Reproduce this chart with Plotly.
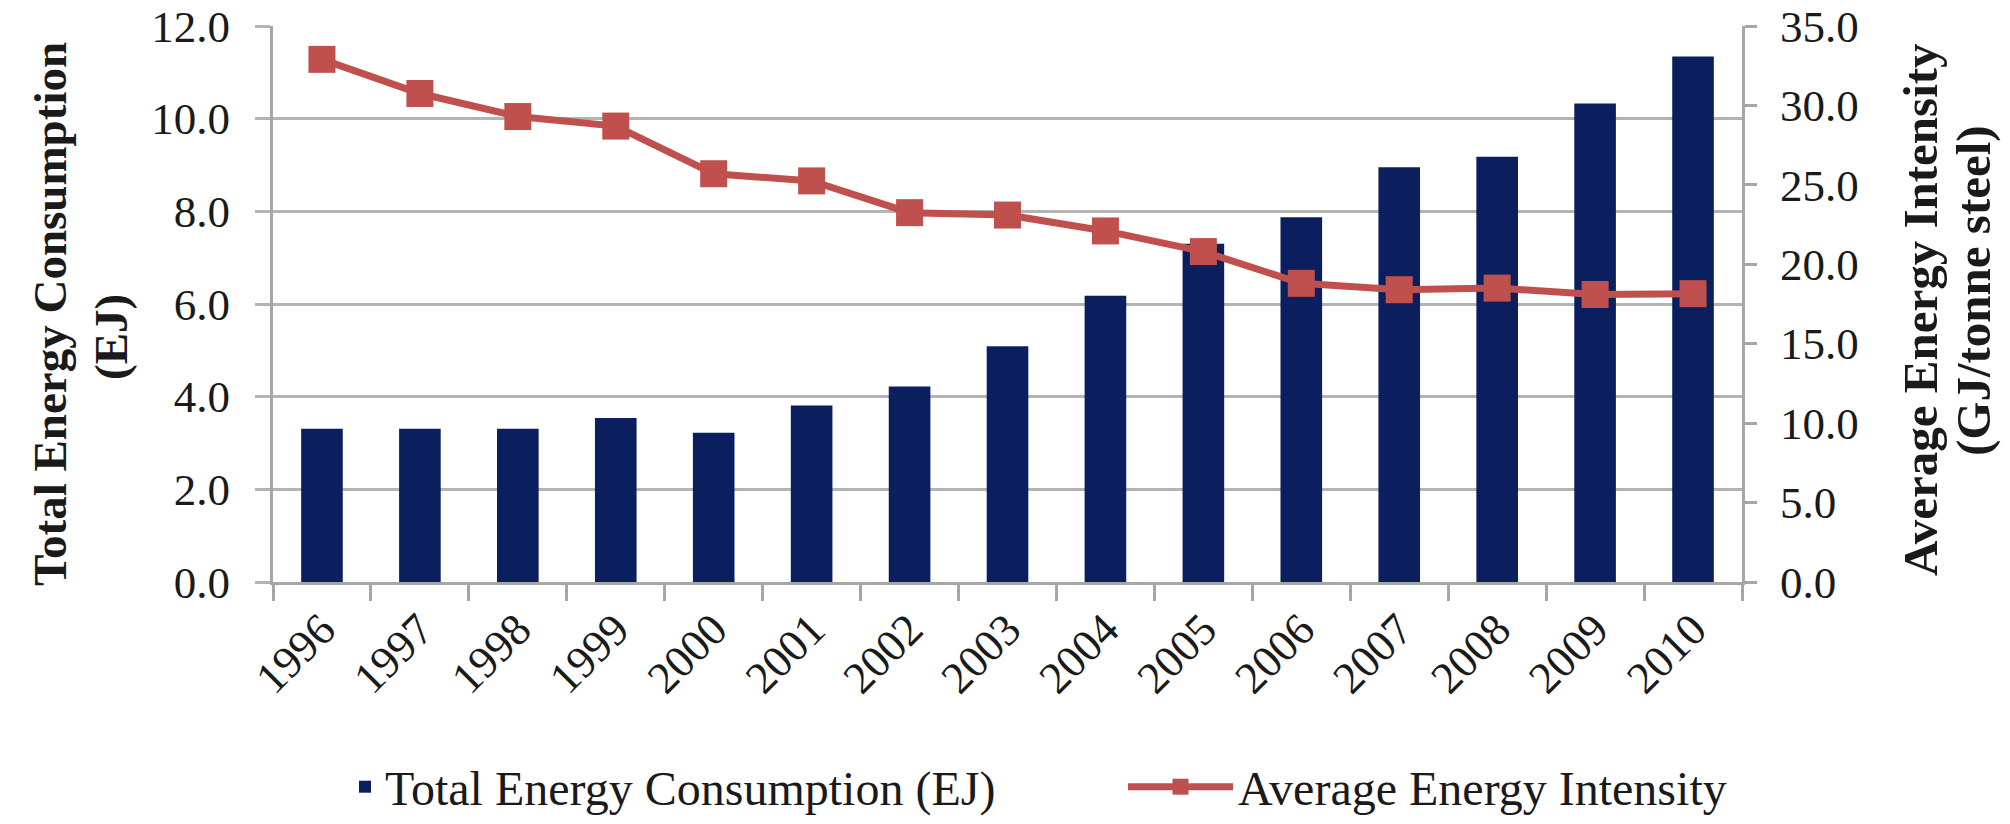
import plotly.graph_objects as go

years = ["1996", "1997", "1998", "1999", "2000", "2001", "2002", "2003",
         "2004", "2005", "2006", "2007", "2008", "2009", "2010"]
consumption_ej = [3.31, 3.31, 3.31, 3.54, 3.22, 3.81, 4.22, 5.09,
                  6.18, 7.30, 7.87, 8.95, 9.18, 10.33, 11.34]
intensity_gj_t = [32.9, 30.75, 29.3, 28.7, 25.7, 25.25, 23.25, 23.1,
                  22.1, 20.8, 18.8, 18.4, 18.5, 18.1, 18.15]

left_ticks = [0, 2, 4, 6, 8, 10, 12]
right_ticks = [0, 5, 10, 15, 20, 25, 30, 35]

left_title = ["Total Energy Consumption", "(EJ)"]
right_title = ["Average Energy Intensity", "(GJ/tonne steel)"]

FONT = "Liberation Serif, Times New Roman, serif"
BAR_COLOR = "#0B1F5E"
LINE_COLOR = "#C0504D"
GRID = "#B4B4B4"
AXIS = "#A6A6A6"

W, H = 2010, 824
ML, MR, MT, MB = 273, 268, 26, 242
PW, PH = W - ML - MR, H - MT - MB


def px_x(px):
    return (px - ML) / PW


def px_y(py):
    return (H - MB - py) / PH


fig = go.Figure()
fig.add_trace(go.Bar(
    x=years, y=consumption_ej, name="Total Energy Consumption (EJ)",
    marker=dict(color=BAR_COLOR, line=dict(width=0)), yaxis="y",
    legend="legend",
))
fig.add_trace(go.Scatter(
    x=years, y=intensity_gj_t, name="Average Energy Intensity",
    mode="lines+markers", yaxis="y2", legend="legend2",
    line=dict(color=LINE_COLOR, width=7),
    marker=dict(symbol="square", size=27, color=LINE_COLOR),
))

legend_common = dict(
    orientation="h", xref="container", yref="container",
    xanchor="left", y=1 - 787 / H, yanchor="middle",
    font=dict(family=FONT, size=48, color="#1a1a1a"),
    bgcolor="rgba(0,0,0,0)",
)

fig.update_layout(
    width=W, height=H,
    margin=dict(l=ML, r=MR, t=MT, b=MB, autoexpand=False),
    paper_bgcolor="white", plot_bgcolor="white",
    font=dict(family=FONT, size=45, color="#1a1a1a"),
    bargap=0.575,
    showlegend=True,
    legend=dict(x=345 / W, itemwidth=30, **legend_common),
    legend2=dict(x=1123 / W, itemwidth=105, **legend_common),
    xaxis=dict(
        type="category", range=[-0.5, len(years) - 0.5],
        tickson="boundaries", ticks="outside", ticklen=16,
        tickwidth=3, tickcolor=AXIS, showline=True, linecolor=AXIS, linewidth=3,
        showgrid=False, tickangle=-45, tickfont=dict(family=FONT, size=45),
        automargin=False,
    ),
    yaxis=dict(
        range=[0, 12], tickvals=left_ticks, tickformat=".1f",
        ticks="outside", ticklen=15, tickwidth=3, tickcolor=GRID,
        ticklabelstandoff=16,
        showline=True, linecolor=AXIS, linewidth=3,
        showgrid=True, gridcolor=GRID, gridwidth=3, zeroline=False,
        tickfont=dict(family=FONT, size=45),
        automargin=False,
    ),
    yaxis2=dict(
        range=[0, 35], tickvals=right_ticks, tickformat=".1f", overlaying="y",
        side="right", ticks="outside", ticklen=12, tickwidth=3, tickcolor=AXIS,
        ticklabelstandoff=14,
        showline=True, linecolor=AXIS, linewidth=3, showgrid=False, zeroline=False,
        tickfont=dict(family=FONT, size=45),
        automargin=False,
    ),
)

title_font_l = dict(family=FONT, size=47, color="#1a1a1a", weight="bold")
title_font_r = dict(family=FONT, size=49, color="#1a1a1a", weight="bold")
for text, cx, cy, f in [
    (left_title[0], 50, 314, title_font_l),
    (left_title[1], 111, 337, title_font_l),
    (right_title[0], 1921, 310, title_font_r),
    (right_title[1], 1973, 291, title_font_r),
]:
    fig.add_annotation(
        text=text, xref="paper", yref="paper", x=px_x(cx), y=px_y(cy),
        xanchor="center", yanchor="middle", textangle=-90, showarrow=False,
        font=f,
    )

fig.write_html("out.html")
